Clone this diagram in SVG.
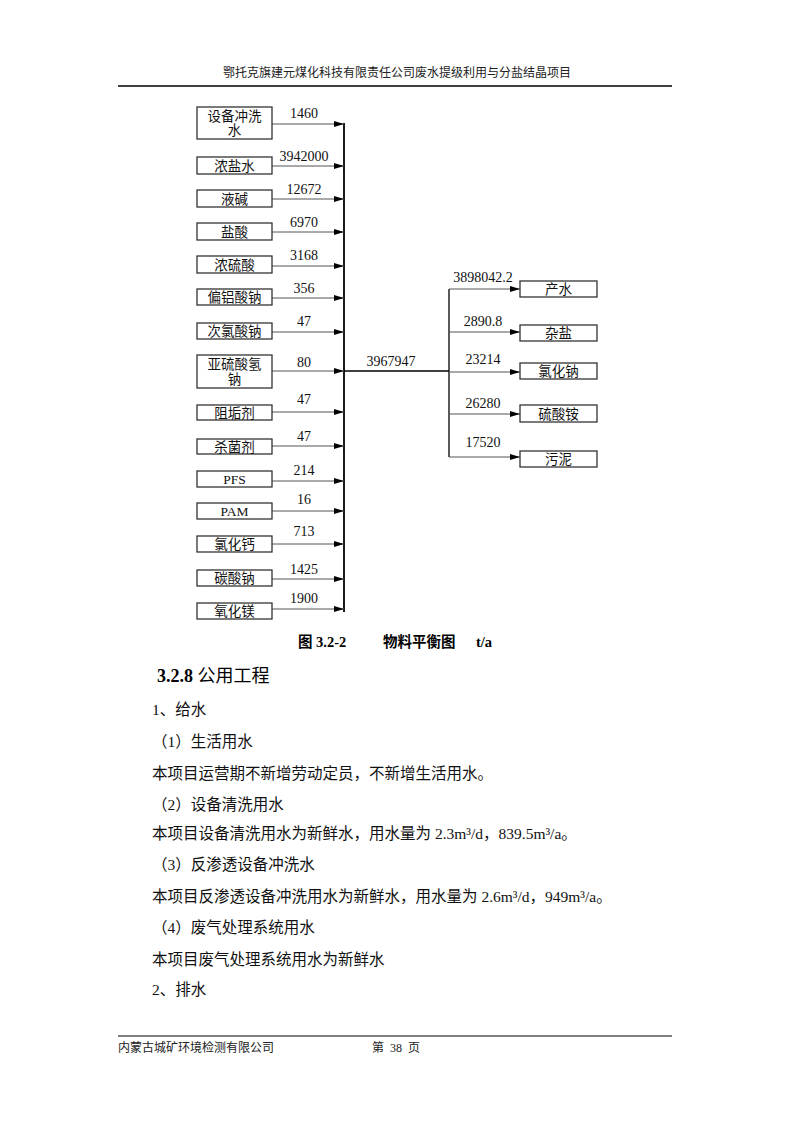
<svg xmlns="http://www.w3.org/2000/svg" width="793" height="1121" viewBox="0 0 793 1121">
<defs>
<style>
.bg{fill:#fff}
.box{fill:#fff;stroke:#333;stroke-width:1.3}
.bt{font-family:"Liberation Serif","Noto Sans CJK SC",serif;font-size:13.5px;fill:#111;text-anchor:middle}
.num{font-family:"Liberation Serif",serif;font-size:14px;fill:#111;text-anchor:middle}
.con{stroke:#555;stroke-width:1;fill:none}
.bar{stroke:#000;stroke-width:1.8;fill:none}
.hdr{font-family:"Liberation Serif","Noto Sans CJK SC",serif;font-size:12px;fill:#222}
.body{font-family:"Liberation Serif","Noto Sans CJK SC",serif;font-size:15.5px;fill:#111}
.rule{stroke:#000;stroke-width:1.5}
</style>
<marker id="arr" markerWidth="10" markerHeight="6" refX="10" refY="3" orient="auto" markerUnits="userSpaceOnUse"><path d="M0,0 L10,3 L0,6 z" fill="#000"/></marker>
</defs>
<rect class="bg" x="0" y="0" width="793" height="1121"/>

<g id="header">
<text class="hdr" x="397" y="77" text-anchor="middle">鄂托克旗建元煤化科技有限责任公司废水提级利用与分盐结晶项目</text>
<line class="rule" x1="118" y1="86" x2="672" y2="86"/>
</g>

<g id="connectors">
<line class="bar" x1="344" y1="123" x2="344" y2="612"/>
<line class="bar" x1="344" y1="371" x2="449" y2="371" style="stroke-width:1.3"/>
<line class="bar" x1="449" y1="289" x2="449" y2="457" style="stroke-width:1.3"/>
<g marker-end="url(#arr)">
<line class="con" x1="272" y1="124" x2="344" y2="124"/>
<line class="con" x1="272" y1="166" x2="344" y2="166"/>
<line class="con" x1="272" y1="199" x2="344" y2="199"/>
<line class="con" x1="272" y1="232" x2="344" y2="232"/>
<line class="con" x1="272" y1="266" x2="344" y2="266"/>
<line class="con" x1="272" y1="298" x2="344" y2="298"/>
<line class="con" x1="272" y1="332" x2="344" y2="332"/>
<line class="con" x1="272" y1="371" x2="344" y2="371"/>
<line class="con" x1="272" y1="412" x2="344" y2="412"/>
<line class="con" x1="272" y1="446" x2="344" y2="446"/>
<line class="con" x1="272" y1="481" x2="344" y2="481"/>
<line class="con" x1="272" y1="511" x2="344" y2="511"/>
<line class="con" x1="272" y1="544" x2="344" y2="544"/>
<line class="con" x1="272" y1="579" x2="344" y2="579"/>
<line class="con" x1="272" y1="609" x2="344" y2="609"/>
<line class="con" x1="449" y1="289" x2="520" y2="289"/>
<line class="con" x1="449" y1="332" x2="520" y2="332"/>
<line class="con" x1="449" y1="372" x2="520" y2="372"/>
<line class="con" x1="449" y1="414" x2="520" y2="414"/>
<line class="con" x1="449" y1="457" x2="520" y2="457"/>
</g>
<text class="num" x="304" y="118">1460</text>
<text class="num" x="304" y="161">3942000</text>
<text class="num" x="304" y="194">12672</text>
<text class="num" x="304" y="227">6970</text>
<text class="num" x="304" y="260">3168</text>
<text class="num" x="304" y="293">356</text>
<text class="num" x="304" y="326">47</text>
<text class="num" x="304" y="367">80</text>
<text class="num" x="304" y="404">47</text>
<text class="num" x="304" y="441">47</text>
<text class="num" x="304" y="475">214</text>
<text class="num" x="304" y="504">16</text>
<text class="num" x="304" y="536">713</text>
<text class="num" x="304" y="574">1425</text>
<text class="num" x="304" y="603">1900</text>
<text class="num" x="391" y="366">3967947</text>
<text class="num" x="483" y="282">3898042.2</text>
<text class="num" x="483" y="326">2890.8</text>
<text class="num" x="483" y="364">23214</text>
<text class="num" x="483" y="408">26280</text>
<text class="num" x="483" y="447">17520</text>
</g>

<g id="n1"><rect class="box" x="197" y="107" width="75" height="32"/><text class="bt" x="234.5" y="121">设备冲洗</text><text class="bt" x="234.5" y="135">水</text></g>
<g id="n2"><rect class="box" x="197" y="157" width="75" height="17"/><text class="bt" x="234.5" y="170.5">浓盐水</text></g>
<g id="n3"><rect class="box" x="197" y="190" width="75" height="17"/><text class="bt" x="234.5" y="203.5">液碱</text></g>
<g id="n4"><rect class="box" x="197" y="223" width="75" height="17"/><text class="bt" x="234.5" y="236.5">盐酸</text></g>
<g id="n5"><rect class="box" x="197" y="256" width="75" height="17"/><text class="bt" x="234.5" y="269.5">浓硫酸</text></g>
<g id="n6"><rect class="box" x="197" y="289" width="75" height="16"/><text class="bt" x="234.5" y="302">偏铝酸钠</text></g>
<g id="n7"><rect class="box" x="197" y="323" width="75" height="16"/><text class="bt" x="234.5" y="336">次氯酸钠</text></g>
<g id="n8"><rect class="box" x="197" y="355" width="75" height="33"/><text class="bt" x="234.5" y="369">亚硫酸氢</text><text class="bt" x="234.5" y="384">钠</text></g>
<g id="n9"><rect class="box" x="197" y="405" width="75" height="15"/><text class="bt" x="234.5" y="417.5">阻垢剂</text></g>
<g id="n10"><rect class="box" x="197" y="439" width="75" height="15"/><text class="bt" x="234.5" y="451.5">杀菌剂</text></g>
<g id="n11"><rect class="box" x="197" y="471" width="75" height="16"/><text class="bt" x="234.5" y="484">PFS</text></g>
<g id="n12"><rect class="box" x="197" y="503" width="75" height="16"/><text class="bt" x="234.5" y="516">PAM</text></g>
<g id="n13"><rect class="box" x="197" y="536" width="75" height="16"/><text class="bt" x="234.5" y="549">氯化钙</text></g>
<g id="n14"><rect class="box" x="197" y="570" width="75" height="16"/><text class="bt" x="234.5" y="583">碳酸钠</text></g>
<g id="n15"><rect class="box" x="197" y="603" width="75" height="16"/><text class="bt" x="234.5" y="616">氧化镁</text></g>

<g id="r1"><rect class="box" x="520" y="281" width="77" height="16"/><text class="bt" x="558.5" y="294">产水</text></g>
<g id="r2"><rect class="box" x="520" y="325" width="77" height="16"/><text class="bt" x="558.5" y="338">杂盐</text></g>
<g id="r3"><rect class="box" x="520" y="363" width="77" height="16"/><text class="bt" x="558.5" y="376">氯化钠</text></g>
<g id="r4"><rect class="box" x="520" y="405" width="77" height="17"/><text class="bt" x="558.5" y="418.5">硫酸铵</text></g>
<g id="r5"><rect class="box" x="520" y="451" width="77" height="16"/><text class="bt" x="558.5" y="464">污泥</text></g>

<g id="caption">
<text font-family="'Liberation Serif','Noto Sans CJK SC',serif" font-size="14.5" font-weight="bold" fill="#000" x="298" y="647">图 3.2-2</text>
<text font-family="'Liberation Serif','Noto Sans CJK SC',serif" font-size="14.5" font-weight="bold" fill="#000" x="383" y="647">物料平衡图</text>
<text font-family="'Liberation Serif','Noto Sans CJK SC',serif" font-size="14.5" font-weight="bold" fill="#000" x="476" y="647">t/a</text>
</g>

<g id="body">
<text x="157" y="682" fill="#000" font-family="'Liberation Serif','Noto Sans CJK SC',serif" font-size="18"><tspan font-weight="bold">3.2.8 </tspan><tspan>公用工程</tspan></text>
<text class="body" x="152" y="715">1、给水</text>
<text class="body" x="152" y="747">（1）生活用水</text>
<text class="body" x="152" y="779">本项目运营期不新增劳动定员，不新增生活用水。</text>
<text class="body" x="152" y="810">（2）设备清洗用水</text>
<text class="body" x="152" y="839">本项目设备清洗用水为新鲜水，用水量为 2.3m³/d，839.5m³/a。</text>
<text class="body" x="152" y="870">（3）反渗透设备冲洗水</text>
<text class="body" x="152" y="902">本项目反渗透设备冲洗用水为新鲜水，用水量为 2.6m³/d，949m³/a。</text>
<text class="body" x="152" y="933">（4）废气处理系统用水</text>
<text class="body" x="152" y="965">本项目废气处理系统用水为新鲜水</text>
<text class="body" x="152" y="995">2、排水</text>
</g>

<g id="footer">
<line class="rule" x1="118" y1="1036" x2="672" y2="1036" style="stroke-width:1"/>
<text class="hdr" x="118" y="1052">内蒙古城矿环境检测有限公司</text>
<text class="hdr" x="372" y="1052" xml:space="preserve">第  38  页</text>
</g>
</svg>
